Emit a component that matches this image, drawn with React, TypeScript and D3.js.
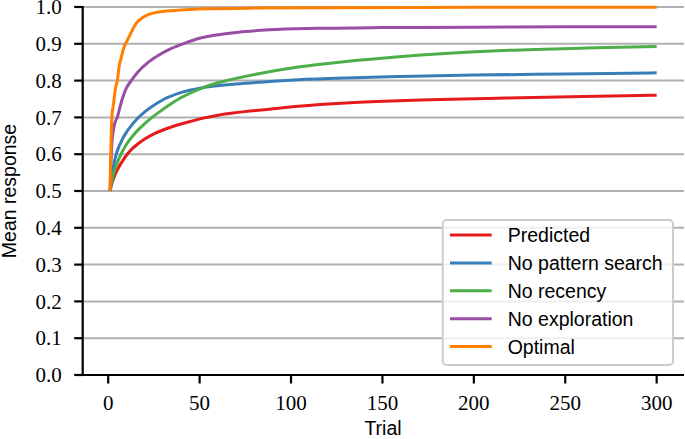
import React from "react";
import * as d3 from "d3";

const seriesNames = ["Predicted", "No pattern search", "No recency", "No exploration", "Optimal"];
const seriesColors = ["#e41a1c", "#377eb8", "#4daf4a", "#984ea3", "#ff7f00"];

const predictedT = [1, 2, 3, 4.4, 7, 10.4, 13, 16, 20, 25, 34, 45, 52, 60, 70, 88, 104, 130, 159, 213, 260, 300];
const predictedV = [0.5, 0.52, 0.535, 0.552, 0.575, 0.6, 0.614, 0.627, 0.641, 0.655, 0.673, 0.689, 0.698, 0.706, 0.713, 0.722, 0.73, 0.739, 0.745, 0.752, 0.757, 0.76];

const patternT = [1, 2, 3, 4.4, 6, 8, 10, 13, 16, 20, 25, 30, 34, 40, 52, 70, 90, 104, 130, 160, 200, 250, 300];
const patternV = [0.5, 0.54, 0.57, 0.6, 0.622, 0.643, 0.66, 0.68, 0.697, 0.715, 0.733, 0.748, 0.757, 0.768, 0.781, 0.791, 0.798, 0.802, 0.807, 0.811, 0.815, 0.818, 0.821];

const recencyT = [1, 2, 3, 4.4, 7, 10, 13, 16, 20, 23.5, 30, 34, 40, 52, 60, 70, 88, 104, 130, 159, 213, 267, 300];
const recencyV = [0.5, 0.527, 0.548, 0.57, 0.6, 0.627, 0.647, 0.664, 0.683, 0.698, 0.722, 0.736, 0.754, 0.781, 0.794, 0.806, 0.824, 0.837, 0.852, 0.865, 0.881, 0.889, 0.893];

const explorationT = [1, 2, 3, 4, 5, 6, 8, 10, 12.6, 16, 22, 28, 34, 42, 50, 58, 70, 88, 115, 150, 200, 250, 300];
const explorationV = [0.5, 0.63, 0.67, 0.69, 0.7, 0.72, 0.755, 0.78, 0.8, 0.822, 0.85, 0.87, 0.886, 0.902, 0.915, 0.923, 0.931, 0.938, 0.942, 0.944, 0.945, 0.946, 0.946];

const optimalT = [1, 2, 3, 4, 5, 6, 7, 8, 9, 10, 12, 14, 16, 18, 20, 25, 30, 35, 45, 55, 80, 120, 200, 300];
const optimalV = [0.5, 0.7, 0.74, 0.78, 0.8, 0.84, 0.86, 0.88, 0.895, 0.905, 0.925, 0.945, 0.96, 0.968, 0.975, 0.984, 0.988, 0.99, 0.993, 0.995, 0.997, 0.998, 0.999, 0.999];

const seriesT = [predictedT, patternT, recencyT, explorationT, optimalT];
const seriesV = [predictedV, patternV, recencyV, explorationV, optimalV];

const xTicks = [0, 50, 100, 150, 200, 250, 300];
const yTicks = [0, 0.1, 0.2, 0.3, 0.4, 0.5, 0.6, 0.7, 0.8, 0.9, 1.0];

const W = 685;
const H = 439;
const serif = "'Liberation Serif', 'DejaVu Serif', serif";
const sans = "'Liberation Sans', Arial, sans-serif";

export default function App() {
  const left = 82.7;
  const right = 684;
  const top = 7;
  const bottom = 375;
  const x = d3.scaleLinear().domain([-13.95, 314.95]).range([left, right]);
  const y = d3.scaleLinear().domain([0, 1]).range([bottom, top]);
  const line = d3
    .line<[number, number]>()
    .x((d) => x(d[0]))
    .y((d) => y(d[1]))
    .curve(d3.curveMonotoneX);

  const legX = 442.7;
  const legY = 220;
  const legW = 230.3;
  const legH = 145;
  const rowY = (i: number) => 235 + i * 27.9;

  return (
    <svg
      width={W}
      height={H}
      style={{ position: "absolute", left: 0, top: 0, background: "#fff" }}
    >
      {yTicks.map((t) => (
        <line
          key={"g" + t}
          x1={left}
          x2={right}
          y1={y(t)}
          y2={y(t)}
          stroke="#b0b0b0"
          strokeWidth={2}
        />
      ))}
      {seriesNames.map((n, i) => (
        <path
          key={n}
          d={line(seriesT[i].map((t, j) => [t, seriesV[i][j]] as [number, number])) || ""}
          fill="none"
          stroke={seriesColors[i]}
          strokeWidth={3}
          strokeLinejoin="round"
        />
      ))}
      <line x1={left} x2={left} y1={top - 1} y2={bottom + 1} stroke="#000" strokeWidth={2.2} />
      <line x1={left - 1} x2={right} y1={bottom} y2={bottom} stroke="#000" strokeWidth={2.2} />
      {yTicks.map((t) => (
        <g key={"y" + t}>
          <line x1={left - 8.5} x2={left} y1={y(t)} y2={y(t)} stroke="#000" strokeWidth={2.2} />
          <text
            x={61.7}
            y={y(t)}
            dy="0.34em"
            textAnchor="end"
            fontFamily={serif}
            fontSize={21}
            fill="#000"
          >
            {t.toFixed(1)}
          </text>
        </g>
      ))}
      {xTicks.map((t) => (
        <g key={"x" + t}>
          <line x1={x(t)} x2={x(t)} y1={bottom} y2={bottom + 8.5} stroke="#000" strokeWidth={2.2} />
          <text
            x={x(t)}
            y={410}
            textAnchor="middle"
            fontFamily={serif}
            fontSize={21}
            fill="#000"
          >
            {t}
          </text>
        </g>
      ))}
      <text x={383} y={435} textAnchor="middle" fontFamily={sans} fontSize={19.5} fill="#000">
        Trial
      </text>
      <text
        transform={`translate(16,${(top + bottom) / 2}) rotate(-90)`}
        textAnchor="middle"
        fontFamily={sans}
        fontSize={19.5}
        fill="#000"
      >
        Mean response
      </text>
      <rect
        x={legX}
        y={legY}
        width={legW}
        height={legH}
        rx={4}
        fill="#fff"
        fillOpacity={0.8}
        stroke="#cccccc"
        strokeWidth={2}
      />
      {seriesNames.map((n, i) => (
        <g key={"l" + n}>
          <line x1={450} x2={491.7} y1={rowY(i)} y2={rowY(i)} stroke={seriesColors[i]} strokeWidth={3} />
          <text x={507.7} y={rowY(i)} dy="0.36em" fontFamily={sans} fontSize={19.5} fill="#000">
            {n}
          </text>
        </g>
      ))}
    </svg>
  );
}
